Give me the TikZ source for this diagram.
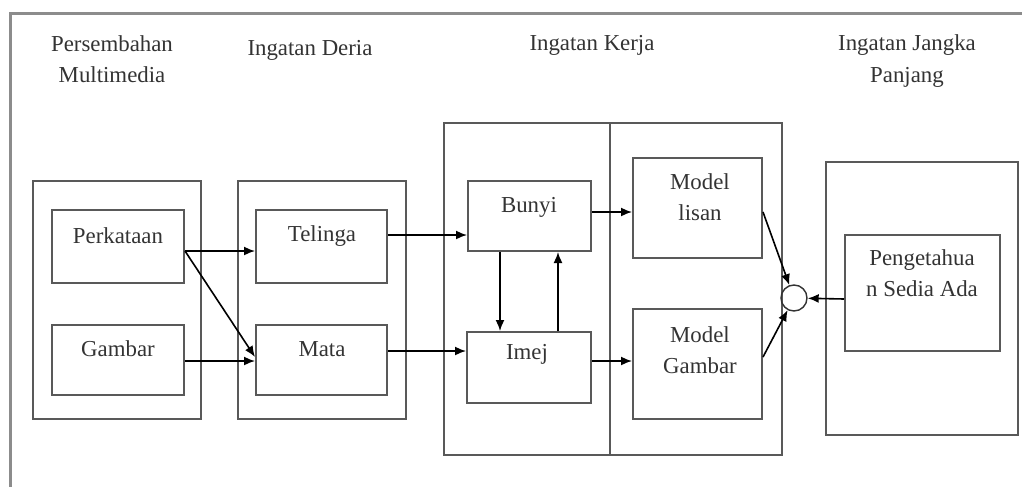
\documentclass[tikz,border=0pt]{standalone}
\usepackage{fontspec}
\setmainfont{Liberation Serif}
\usetikzlibrary{arrows.meta,fit}
\begin{document}
\begin{tikzpicture}[x=0.02cm,y=-0.02cm,
  frameline/.style={draw=black!45,line width=3*0.02cm},
  box/.style={draw=black!65,line width=2*0.02cm,inner sep=0pt,fill=none},
  lbl/.style={font=\fontsize{13}{18}\selectfont,text=black!80,align=center,inner sep=0pt},
  arr/.style={draw=black,line width=1.6*0.02cm,-{Latex[length=2.2mm,width=1.8mm]}}]
\useasboundingbox (0,0) rectangle (1022,487);
% frame (top and left only)
\coordinate (frtl) at (10,13);
\coordinate (frtr) at (1022,13);
\coordinate (frbl) at (10,487);
\draw[frameline] (frtr) -- (frtl) -- (frbl);
% headings
\node[lbl] (h1) at (112,59) {Persembahan\\Multimedia};
\node[lbl] (h2) at (310,50) {Ingatan Deria};
\node[lbl] (h3) at (592,45) {Ingatan Kerja};
\node[lbl] (h4) at (907,61) {Ingatan Jangka\\Panjang};
% group boxes
\node[box,fit={(33,181) (201,419)}] (g1) {};
\node[box,fit={(238,181) (406,419)}] (g2) {};
\node[box,fit={(444,123) (782,455)}] (wm) {};
\coordinate (divtop) at (610,123);
\coordinate (divbot) at (610,455);
\draw[box] (divtop) -- (divbot);
\node[box,fit={(826,162) (1018,435)}] (ltm) {};
% inner boxes
\node[box,fit={(52,210) (184,283)}] (perk) {};
\node[box,fit={(52,325) (184,395)}] (gamb) {};
\node[box,fit={(256,210) (387,283)}] (tel) {};
\node[box,fit={(256,325) (387,395)}] (mata) {};
\node[box,fit={(468,181) (591,251)}] (bunyi) {};
\node[box,fit={(467,332) (591,403)}] (imej) {};
\node[box,fit={(633,158) (762,258)}] (mlisan) {};
\node[box,fit={(633,309) (762,419)}] (mgamb) {};
\node[box,fit={(845,235) (1000,351)}] (peng) {};
% inner texts
\node[lbl] (perkt) at (118,236) {Perkataan};
\node[lbl] (gambt) at (118,349) {Gambar};
\node[lbl] (telt) at (322,236) {Telinga};
\node[lbl] (matat) at (322,349) {Mata};
\node[lbl] (bunyit) at (529,207) {Bunyi};
\node[lbl] (imejt) at (527,354) {Imej};
\node[lbl] (mlisant) at (700,197) {Model\\lisan};
\node[lbl] (mgambt) at (700,350) {Model\\Gambar};
\node[lbl] (pengt) at (922,273) {Pengetahua\\n Sedia Ada};
% junction
\node[draw=black!80,line width=1.4*0.02cm,circle,minimum size=26*0.02cm,inner sep=0pt] (junc) at (794,298) {};
% level coordinates
\coordinate (y251) at (0,251);
\coordinate (y357) at (0,357);
\coordinate (y361) at (0,361);
\coordinate (y235) at (0,235);
\coordinate (y351) at (0,351);
\coordinate (y212) at (0,212);
\coordinate (y299) at (0,299);
\coordinate (x500) at (500,0);
\coordinate (x558) at (558,0);
% connectors
\draw[arr] (perk.east |- y251) -- (tel.west |- y251);
\draw[arr] (perk.east |- y251) -- (mata.west |- y357);
\draw[arr] (gamb.east |- y361) -- (mata.west |- y361);
\draw[arr] (tel.east |- y235) -- (bunyi.west |- y235);
\draw[arr] (mata.east |- y351) -- (imej.west |- y351);
\draw[arr] (bunyi.south -| x500) -- (imej.north -| x500);
\draw[arr] (imej.north -| x558) -- (bunyi.south -| x558);
\draw[arr] (bunyi.east |- y212) -- (mlisan.west |- y212);
\draw[arr] (imej.east |- y361) -- (mgamb.west |- y361);
\draw[arr] (mlisan.east |- y212) -- (junc);
\draw[arr] (mgamb.east |- y357) -- (junc);
\draw[arr] (peng.west |- y299) -- (junc);
\end{tikzpicture}
\end{document}
